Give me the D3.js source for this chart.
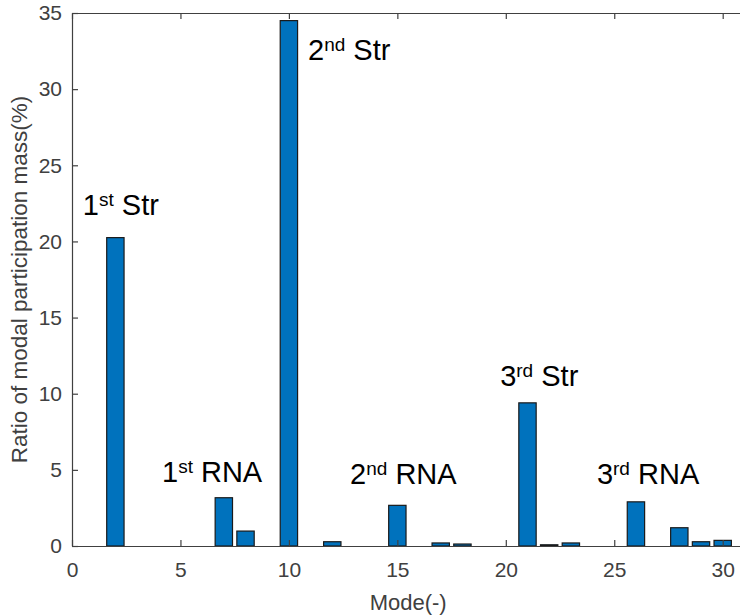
<!DOCTYPE html>
<html>
<head>
<meta charset="utf-8">
<script src="https://cdn.jsdelivr.net/npm/d3@7"></script>
<style>
  body { margin: 0; background: #fff; }
  svg text { font-family: "Liberation Sans", Arial, sans-serif; }
</style>
</head>
<body>
<div id="chart"></div>
<script>
// Data
var modes = d3.range(1, 31),
	ratio = [0, 20.25, 0, 0, 0, 0, 3.17, 0.98, 0, 34.5,
		0, 0.28, 0, 0, 2.67, 0, 0.2, 0.13, 0, 0,
		9.4, 0.08, 0.2, 0, 0, 2.9, 0, 1.2, 0.28, 0.37],
	xTicks = [0, 5, 10, 15, 20, 25, 30],
	yTicks = [0, 5, 10, 15, 20, 25, 30, 35];

// annotations: number, superscript, name, placed at (mode, value)
var annNum = ["1", "2", "1", "2", "3", "3"],
	annSup = ["st", "nd", "st", "nd", "rd", "rd"],
	annName = ["Str", "Str", "RNA", "RNA", "Str", "RNA"],
	annAt = [[0.5, 21.75], [10.88, 31.9], [4.15, 4.2], [12.82, 4.07], [19.74, 10.5], [24.2, 4.07]];

var width = 740,
	height = 615,
	plotLeft = 72,
	plotTop = 13,
	plotBottom = 546,
	axisColor = "#404040";

var svg = d3.select("#chart")
	.append("svg")
	.attr("width", width)
	.attr("height", height);

var x = d3.scaleLinear()
	.domain([0, 31])
	.range([plotLeft, plotLeft + 31 * 21.69]);

var y = d3.scaleLinear()
	.domain([0, 35])
	.range([plotBottom, plotTop]);

var barW = x(0.8) - x(0);

// Bars
svg.append("g")
	.selectAll("rect")
	.data(modes.filter(function(m, i) { return ratio[i] > 0; }))
	.enter()
	.append("rect")
	.attr("x", function(m) { return x(m) - barW / 2; })
	.attr("y", function(m) { return y(ratio[m - 1]); })
	.attr("width", barW)
	.attr("height", function(m) { return plotBottom - y(ratio[m - 1]); })
	.attr("fill", "#0072BD")
	.attr("stroke", "#1a1a1a")
	.attr("stroke-width", 1.2);

// Axes (drawn on top, ticks inward)
function styleAxis(g) {
	g.select(".domain").attr("stroke", axisColor).attr("stroke-width", 1.2);
	g.selectAll(".tick line").attr("stroke", axisColor).attr("stroke-width", 1.2);
	g.selectAll(".tick text")
		.attr("fill", axisColor)
		.style("font-size", "21px");
}

var xAxis = svg.append("g")
	.attr("transform", "translate(0," + plotBottom + ")")
	.call(d3.axisBottom(x).tickValues(xTicks).tickSizeInner(-6).tickSizeOuter(0).tickPadding(16));
styleAxis(xAxis);

var xTop = svg.append("g")
	.attr("transform", "translate(0," + plotTop + ")")
	.call(d3.axisTop(x).tickValues(xTicks).tickSizeInner(-6).tickSizeOuter(0).tickFormat(""));
styleAxis(xTop);

var yAxis = svg.append("g")
	.attr("transform", "translate(" + plotLeft + ",0)")
	.call(d3.axisLeft(y).tickValues(yTicks).tickSizeInner(-6).tickSizeOuter(0).tickPadding(10));
styleAxis(yAxis);

// Axis labels
svg.append("text")
	.attr("x", x(15.5))
	.attr("y", 610)
	.attr("text-anchor", "middle")
	.attr("fill", axisColor)
	.style("font-size", "22px")
	.text("Mode(-)");

svg.append("text")
	.attr("transform", "translate(27," + ((plotTop + plotBottom) / 2) + ") rotate(-90)")
	.attr("text-anchor", "middle")
	.attr("fill", axisColor)
	.style("font-size", "22.5px")
	.text("Ratio of modal participation mass(%)");

// Annotations
var ann = svg.append("g")
	.selectAll("text")
	.data(annAt)
	.enter()
	.append("text")
	.attr("x", function(d) { return x(d[0]); })
	.attr("y", function(d) { return y(d[1]); })
	.attr("fill", "#000")
	.style("font-size", "29px");

ann.append("tspan").text(function(d, i) { return annNum[i]; });
ann.append("tspan")
	.attr("dy", -9)
	.style("font-size", "19px")
	.text(function(d, i) { return annSup[i]; });
ann.append("tspan")
	.attr("dy", 9)
	.text(function(d, i) { return "\u00a0" + annName[i]; });
</script>
</body>
</html>
